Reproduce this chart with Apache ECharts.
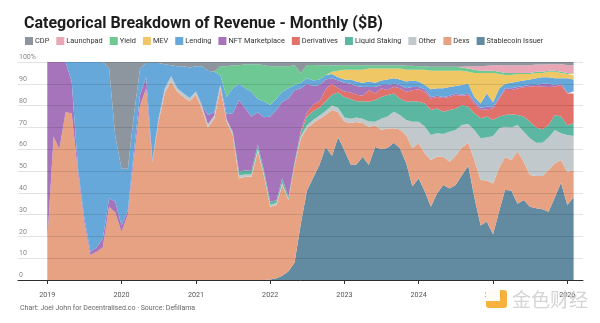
<!DOCTYPE html>
<html>
<head>
<meta charset="utf-8">
<script src="https://cdn.jsdelivr.net/npm/echarts@6/dist/echarts.min.js"></script>
<style>
html,body{margin:0;padding:0;background:#fff;}
#chart{width:600px;height:323px;}
</style>
</head>
<body>
<div id="chart"></div>
<script>
// Months: 2019-01 .. 2026-02
const months = [];
for (let y = 2019; y <= 2026; y++) {
  for (let m = 1; m <= 12; m++) {
    if (y === 2026 && m > 2) break;
    months.push(y + '-' + String(m).padStart(2, '0'));
  }
}
const yearTicks = [2019, 2020, 2021, 2022, 2023, 2024, 2025, 2026];

// Share of monthly revenue (%), one value per month
const stablecoin = [0,0,0,0,0,0,0,0,0,0,0,0,0,0,0,0,0,0,0,0,0,0,0,0,0,0,0,0,0,0,0,0,0,0,0,0,
  0.2,0.8,2,4,8,26,41,47,53,61,57,65.5,59.5,53,53,56.5,52.7,61,60,60.5,63,60.4,53.5,43,46.6,40.5,33.6,39.8,43.6,42,43.6,48,52.4,38,25,26.8,21,32,41.3,41,35,36.7,33.6,32.9,32.4,31.3,38,44.6,34.4,38];
const dexs = [18,65.7,60,77,76.5,49,27,11.5,13,15,33.6,31,22,30,55,80,88,54,72.6,86,91,86.4,84,82,85,78,70,74,88,72.6,66.5,46.6,47.4,47.4,59,48,
  33.4,33.6,41.6,32.7,44.7,39,28.6,25,21,14.7,21,11.5,13.1,19,19.5,15.5,17.5,10,8.8,9,6.6,8.6,13,17.4,16.1,17.5,21.4,16.8,12.9,12.3,13.4,12.9,10.6,17,20.9,18.8,23.3,19.7,15,14,23.9,17.6,14.6,14.8,15.3,19.2,15.5,10.4,15.1,12.5];
const other = [0,0,0,0,0,0,0,0,0,0,0,0,0,0,0,0,0,0.5,0.9,2,2.5,1.6,1.5,1.5,1.5,1.5,1.5,1.5,1.5,1,1,1.4,1,1,1.2,1,
  0.9,0.9,0.9,0.6,0.5,1,1.4,1.5,1.5,1.8,2,2,1.9,2,2,2,2.5,1.6,5.2,5.5,7.6,6.7,6.9,12.2,9.9,12.3,11.5,10.7,10.5,13.7,11.8,10.2,8.6,13.8,19.1,19.8,21.7,17.9,14,15,12.2,13.7,16.8,15.3,15.3,14.9,15.3,12.3,17,15.5];
const liquidStaking = [0,0,0,0,0,0,0,0,0,0,0,0,0,0,0,0,0,0,0,0,0,0,0,0,0,0,0,0,0,0,0.5,1.7,2,1.6,1.8,1.5,
  1.5,1.2,2.1,1,0.8,1.5,4,4,3.5,4.5,5,7,9.5,9,7.5,8,9.1,10,10,9.9,8.4,7.6,8.4,9.4,9.2,10.7,11.5,11.4,10.2,10,9.7,9.2,7.9,7.7,9.2,9.6,7.4,5.4,5.4,6,4.6,7,7.6,7,6.1,5.7,6.9,7.7,4.5,5.9];
const derivatives = [0,0,0,0,0,0,0,0,0,0,0,0,0,0,0,0,0,0,0,0,0,0,0,0,0,0,0,0,0,0,0,0,0,0,0,0,
  0,0,0,0,0,1,2,3,3,5.5,5,2,2.5,3,3,2.5,5.4,3,3.9,2.3,3.1,4.7,4.6,5,5.7,5.4,5.3,5.3,6.3,6,6.4,4.2,5.4,4.5,3.8,3.3,5.3,8.3,11.5,11.2,12.2,13.4,16.1,19,19.6,17.4,13,14.4,14.5,13.7];
const nftMarketplace = [82,34.3,40,23,14.5,2,2,1.5,2,4,3.9,5,3,2,3,5,5,0.5,0.5,0,0,0,0,0,0,0.5,4.2,1.5,0,2.4,8.5,32.9,28.3,25,15,24.1,
  39,41.5,35.2,45,33,19.5,13,8.5,7.5,4.5,2.5,3.5,4,4,4,4,1.3,2.9,1.6,2.3,1.3,1.5,1.6,1.5,1,1.1,0.7,0.5,0.5,0.5,0.6,0.5,0.6,1,1,1.2,0.8,0.7,0.8,0.8,0.6,0.6,0.8,0.5,1.3,1.5,0.8,0.6,0.5,0.9];
const lending = [0,0,0,0,9,49,71,87,85,81,59.5,30,26,19,17,12,6.5,44.5,25.5,11,5,10,12.5,14,11.5,18,20.3,18.5,4.5,8,11.5,7.4,9.3,11.4,6,7.4,
  5.3,5.3,4.6,4.7,2.4,2.5,2.5,2.5,2.5,2,2,1.5,1.5,2,2,2,2.5,2,2,2.5,2.5,2.5,3,3,2.5,2,3.5,3.5,4,4,3.5,4.5,4.5,2,2,6.1,2,4,2,2.5,2.5,2.5,2.5,3,3,3,3,2.5,6.5,5.5];
const mev = [0,0,0,0,0,0,0,0,0,0,0,0,0,0,0,0,0,0,0,0,0,0,0,0,0,0,0,0,0,0,0,0,0,0,0,0,
  0,0,0,0,0,0,0,0,0,0,1,3,4.5,4.5,5.5,6,6,6.5,5.5,5,4.5,5,5.5,5,5.5,7,8.5,8,8,7.5,7,6.5,5.5,11,14,9.4,13.5,6.5,4,3.5,3.5,3,2.5,2.5,2,2.5,3,2.5,2,2];
const yieldShare = [0,0,0,0,0,0,0,0,0,0,0,0,0,0,0,0,0,0,0,0,0,0,0,0,0,0,0,0,4,14,10.5,8.5,11,12.6,16,16.5,
  17.7,14.7,11.6,10,9.1,4.5,6.1,7.1,6.5,4.5,3,2.5,2,2,2,2,1.5,1.5,1.5,1.5,1.5,1.5,1.8,1.8,1.5,1.5,1.8,1.8,1.8,1.8,1.8,1.5,1.5,1.5,1,1,1,1,1,1,0.5,0.5,0.5,0.5,0.5,0.5,0.5,0.5,0.5,0.5];
const launchpad = [0,0,0,0,0,0,0,0,0,0,0,0,0,0,0,0,0,0,0,0,0,0,0,0,0,0,0,0,0,0,0,0,0,0,0,0,
  0,0,0,0,0,0,0,0,0,0,0,0,0,0,0,0,0,0,0,0,0,0,0,0,0,0,0,0,0,0,0,0.3,1,1.5,2,2.3,2.5,3,3.5,3.5,3.5,3.5,3.5,3.3,3.3,3,3,3.5,3.6,4];
const cdp = [0,0,0,0,0,0,0,0,0,0,3,34,49,49,25,3,0.5,0.5,0.5,1,1.5,2,2,2.5,2,2,4,4.5,2,2,1.5,1.5,1,1,1,1.5,
  2,2,2,2,1.5,5,1.4,1.4,1.5,1.5,1.5,1.5,1.5,1.5,1.5,1.5,1.5,1.5,1.5,1.5,1.5,1.5,1.7,1.7,2,2,2.2,2.2,2.2,2.2,2.2,2.2,2,2,2,1.7,1.5,1.5,1.5,1.5,1.5,1.5,1.5,1.2,1.2,1,1,1,1.4,1.5];

const seriesNames = ['Stablecoin Issuer','Dexs','Other','Liquid Staking','Derivatives','NFT Marketplace','Lending','MEV','Yield','Launchpad','CDP'];
const seriesValues = [stablecoin, dexs, other, liquidStaking, derivatives, nftMarketplace, lending, mev, yieldShare, launchpad, cdp];
const seriesColors = ['#628aa1','#e6a283','#c2c9cc','#5bb7a1','#e1716b','#a674ba','#67a8da','#efc764','#6dc894','#e8a6b6','#8d969e'];
const legendOrder = ['CDP','Launchpad','Yield','MEV','Lending','NFT Marketplace','Derivatives','Liquid Staking','Other','Dexs','Stablecoin Issuer'];

const monthTs = months.map(s => Date.UTC(+s.slice(0,4), +s.slice(5,7) - 1, 1));
const yearTs = yearTicks.map(y => Date.UTC(y, 0, 1));
const YEAR_MS = 365.25 * 864e5;
const X_MIN = yearTs[0] - 0.3944 * YEAR_MS;
const X_MAX = yearTs[7] + 0.2113 * YEAR_MS;

const chart = echarts.init(document.getElementById('chart'), null, {renderer: 'canvas'});
const FONT = 'Roboto, "Noto Sans", sans-serif';

const option = {
  animation: false,
  backgroundColor: '#ffffff',
  textStyle: {fontFamily: FONT},
  title: {
    text: 'Categorical Breakdown of Revenue - Monthly ($B)',
    left: 19, top: 11,
    textStyle: {fontFamily: FONT, fontSize: 16, fontWeight: 'bold', color: '#1d1d1d'}
  },
  legend: {
    data: legendOrder,
    left: 20, top: 32,
    icon: 'rect',
    itemWidth: 8, itemHeight: 8,
    itemGap: 7,
    selectedMode: false,
    textStyle: {fontFamily: FONT, fontSize: 7.4, color: '#333', padding: [0,0,0,-3]}
  },
  grid: {left: 18, right: 17, top: 62, bottom: 43, containLabel: false},
  xAxis: [
    {
      type: 'time', min: X_MIN, max: X_MAX, show: false
    },
    {
      type: 'value', min: X_MIN, max: X_MAX, position: 'bottom',
      axisLine: {show: true, onZero: false, lineStyle: {color: '#333', width: 1}},
      axisTick: {show: true, customValues: yearTs, length: 4, lineStyle: {color: '#333'}},
      axisLabel: {
        customValues: yearTs,
        formatter: v => String(new Date(v).getUTCFullYear()),
        color: '#555', fontSize: 7.2, margin: 12, fontFamily: FONT
      },
      splitLine: {show: false}
    }
  ],
  yAxis: {
    type: 'value', min: 0, max: 100, interval: 10,
    z: 10,
    axisLine: {show: false}, axisTick: {show: false},
    axisLabel: {
      inside: true, margin: 1,
      formatter: v => v === 100 ? '100%' : String(v),
      color: '#888', fontSize: 7, fontFamily: FONT,
      verticalAlign: 'bottom', padding: [0,0,1,0]
    },
    splitLine: {show: true, lineStyle: {color: 'rgba(0,0,0,0.11)', width: 1}}
  },
  series: seriesNames.map((name, i) => ({
    name,
    type: 'line',
    xAxisIndex: 0,
    stack: 'total',
    symbol: 'none',
    silent: true,
    lineStyle: {width: 0},
    itemStyle: {color: seriesColors[i]},
    areaStyle: {color: seriesColors[i], opacity: 1},
    emphasis: {disabled: true},
    data: monthTs.map((t, k) => [t, seriesValues[i][k]])
  })),
  graphic: [
    {type: 'text', left: 20, top: 305,
     style: {text: 'Chart: Joel John for Decentralised.co · Source: Defillama', fill: '#666', font: '7px Roboto, sans-serif'}},
    {type: 'rect', shape: {x: 486, y: 290, width: 21, height: 18, r: 3}, style: {fill: 'rgba(245,170,40,0.9)'}, z: 50},
    {type: 'rect', shape: {x: 486, y: 290, width: 14, height: 11}, style: {fill: 'rgba(255,255,255,0.95)'}, z: 51},
    {type: 'text', left: 512, top: 290,
     style: {text: '金色财经', fill: 'rgba(205,205,205,0.85)', font: '19px "Noto Sans CJK SC", sans-serif'}, z: 50}
  ]
};
chart.setOption(option);
</script>
</body>
</html>
